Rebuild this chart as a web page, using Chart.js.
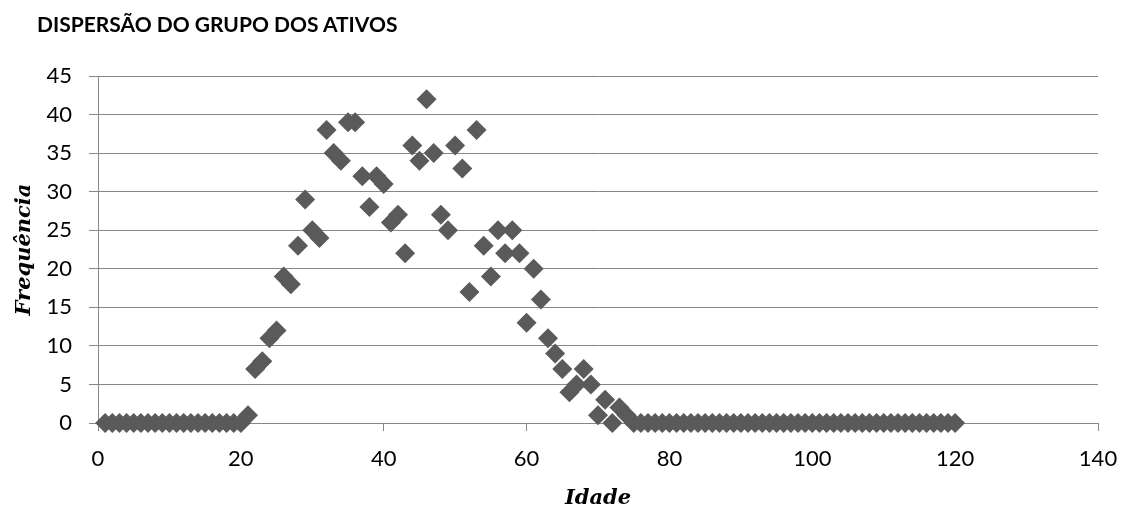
<!DOCTYPE html>
<html>
<head>
<meta charset="utf-8">
<script src="https://cdn.jsdelivr.net/npm/chart.js@4"></script>
<style>
  body { margin: 0; background: #fff; }
  #wrap { position: relative; width: 1123px; height: 506px; }
  #title {
    position: absolute; left: 37px; top: 14px;
    font: bold 21px Lato, sans-serif; line-height: 20px; color: #000;
    white-space: nowrap;
  }
</style>
</head>
<body>
<div id="wrap">
  <div id="title">DISPERSÃO DO GRUPO DOS ATIVOS</div>
  <canvas id="chart" width="1123" height="506"></canvas>
</div>
<script>
// idade 1..120
let ages = [];
for (let a = 1; a <= 120; a++) ages.push(a);

// frequencia por idade (1-20 zero, 75-120 zero)
let freqYoung = [0,0,0,0,0, 0,0,0,0,0, 0,0,0,0,0, 0,0,0,0,0];
let freqMid = [
  1, 7, 8, 11, 12, 19, 18, 23, 29, 25,     // 21-30
  24, 38, 35, 34, 39, 39, 32, 28, 32, 31,  // 31-40
  26, 27, 22, 36, 34, 42, 35, 27, 25, 36,  // 41-50
  33, 17, 38, 23, 19, 25, 22, 25, 22, 13,  // 51-60
  20, 16, 11, 9, 7, 4, 5, 7, 5, 1,         // 61-70
  3, 0, 2, 1                               // 71-74
];
let freqOld = new Array(120 - 74).fill(0);  // 75-120
let freq = freqYoung.concat(freqMid, freqOld);

let xTicks = [0, 20, 40, 60, 80, 100, 120, 140];
let yTicks = [0, 5, 10, 15, 20, 25, 30, 35, 40, 45];

const axisGray = '#868686';
const markGray = '#5a5a5a';

let points = ages.map((a, i) => ({x: a, y: freq[i]}));

new Chart(document.getElementById('chart'), {
  type: 'scatter',
  data: {
    datasets: [{
      data: points,
      pointStyle: 'rectRot',
      pointRadius: 10,
      pointHoverRadius: 10,
      backgroundColor: markGray,
      borderColor: markGray,
      borderWidth: 0,
      clip: false
    }]
  },
  options: {
    responsive: false,
    animation: false,
    events: [],
    layout: {padding: {left: 0, right: 25, top: 76, bottom: 0}},
    plugins: {legend: {display: false}, tooltip: {enabled: false}},
    scales: {
      x: {
        type: 'linear', min: 0, max: 140,
        afterBuildTicks: s => { s.ticks = xTicks.map(v => ({value: v})); },
        afterFit: s => { s.height = 83; s.paddingLeft = 0; s.paddingRight = 0; },
        ticks: {color: '#000', font: {family: 'Lato', size: 22}, padding: 15, maxRotation: 0},
        grid: {drawOnChartArea: false, drawTicks: true, tickLength: 8, color: axisGray},
        border: {color: axisGray, width: 1},
        title: {
          display: true, text: 'Idade', color: '#000',
          font: {family: 'DejaVu Serif', size: 21, style: 'italic', weight: 'bold', lineHeight: 0.7},
          padding: {top: 0, bottom: 0}
        }
      },
      y: {
        type: 'linear', min: 0, max: 45,
        afterBuildTicks: s => { s.ticks = yTicks.map(v => ({value: v})); },
        afterFit: s => { s.width = 98; s.paddingTop = 0; s.paddingBottom = 0; },
        ticks: {color: '#000', font: {family: 'Lato', size: 22}, padding: 17},
        grid: {color: axisGray, tickLength: 9, lineWidth: 1},
        border: {color: axisGray, width: 1},
        title: {
          display: true, text: 'Frequência', color: '#000',
          font: {family: 'DejaVu Serif', size: 21, style: 'italic', weight: 'bold', lineHeight: 0.8},
          padding: {top: 16, bottom: 0}
        }
      }
    }
  }
});
</script>
</body>
</html>
